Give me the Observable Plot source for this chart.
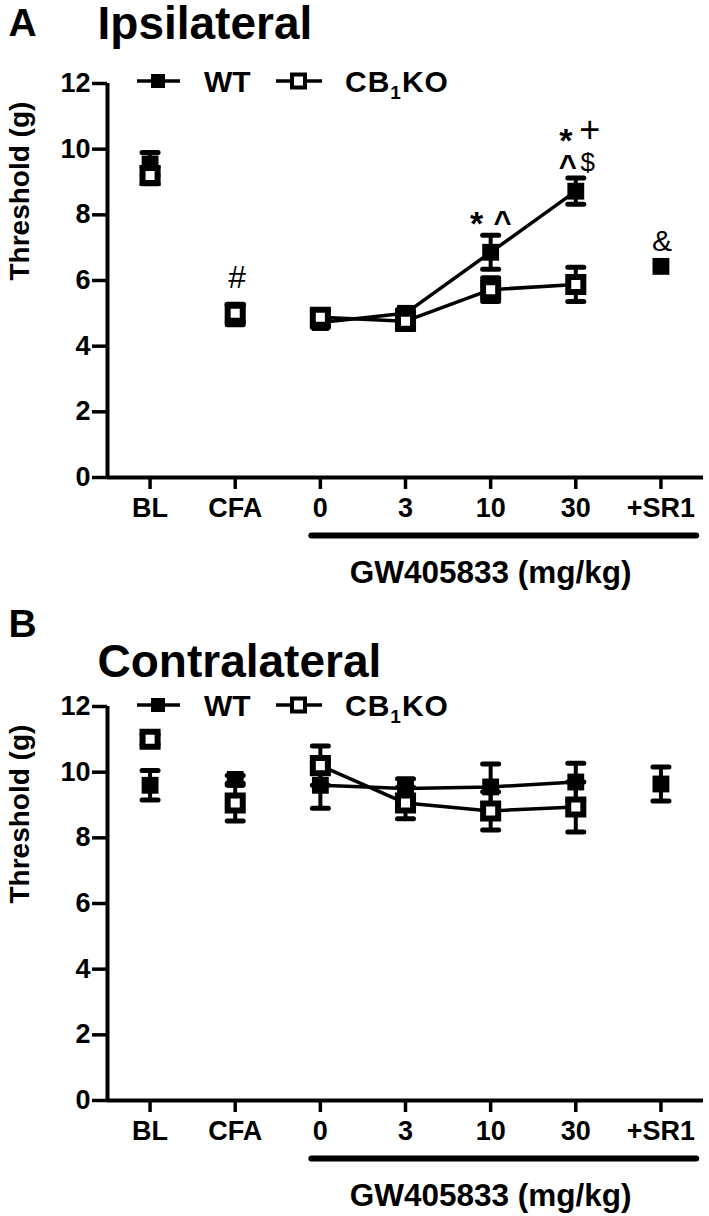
<!DOCTYPE html>
<html>
<head>
<meta charset="utf-8">
<script src="https://cdn.jsdelivr.net/npm/d3@7"></script>
<script src="https://cdn.jsdelivr.net/npm/@observablehq/plot@0.6"></script>
<style>
  html, body { margin: 0; padding: 0; background: #fff; }
  #root { position: relative; width: 709px; height: 1216px; overflow: hidden; background: #fff; }
  .panel { position: absolute; left: 0; width: 709px; }
  .panel > svg { position: absolute; left: 0; top: 0; overflow: visible; }
  .legend { position: absolute; left: 0; }
</style>
</head>
<body>
<div id="root"></div>
<script>
// ---------- data ----------
const categories = ["BL", "CFA", "0", "3", "10", "30", "+SR1"];
const doseCategories = ["0", "3", "10", "30"];
const yTicks = [0, 2, 4, 6, 8, 10, 12];
const seriesNames = ["WT", "CB1KO"];

// Panel A – Ipsilateral (threshold, g)
const ipsiWT    = [9.55, 4.95, 4.72, 5.00, 6.86, 8.72, 6.43];
const ipsiWTsem = [0.35, 0.30, 0.15, 0.12, 0.52, 0.40, 0.00];
const ipsiKO    = [9.20, 5.00, 4.88, 4.76, 5.72, 5.88, null];
const ipsiKOsem = [0.25, 0.28, 0.20, 0.25, 0.36, 0.52, null];

// Panel B – Contralateral (threshold, g)
const contraWT    = [9.60, 9.78, 9.60, 9.50, 9.55, 9.70, 9.64];
const contraWTsem = [0.45, 0.12, 0.70, 0.30, 0.70, 0.57, 0.52];
const contraKO    = [11.00, 9.06, 10.20, 9.06, 8.82, 8.94, null];
const contraKOsem = [0.15, 0.55, 0.60, 0.48, 0.58, 0.76, null];

// significance symbols (panel A)
const ipsiSigCategory = ["CFA", "10", "10", "30", "30", "30", "30", "+SR1"];
const ipsiSigSymbol   = ["#", "*", "^", "*", "+", "^", "$", "&"];
const ipsiSigLevel    = [5.76, 7.40, 7.46, 9.90, 10.23, 9.14, 9.35, 6.91];

// ---------- drawing ----------
const FONT = "'Liberation Sans', Arial, Helvetica, sans-serif";
const sigDx = [2, -14, 12, -10, 14, -8, 12, 1];
const sigFont = {
  "#": {size: 32, weight: "normal"},
  "*": {size: 34, weight: "bold"},
  "^": {size: 31, weight: "bold"},
  "+": {size: 36, weight: "normal"},
  "$": {size: 26, weight: "normal"},
  "&": {size: 30, weight: "normal"}
};

function rows(means, sems, series) {
  return categories
    .map((c, i) => ({cat: c, i, series, v: means[i], sem: sems[i]}))
    .filter(d => d.v != null);
}

const capSymbol = {draw(ctx) { ctx.moveTo(-8, 0); ctx.lineTo(8, 0); }};

function makePanel(opt) {
  const wt = rows(opt.wt, opt.wtSem, "WT");
  const ko = rows(opt.ko, opt.koSem, "CB1KO");
  const isDose = d => doseCategories.includes(d.cat);
  const errMarks = all => {
    const data = all.filter(d => d.sem > 0);
    return [
      Plot.ruleX(data, {x: "i", y1: d => d.v - d.sem, y2: d => d.v + d.sem, stroke: "black", strokeWidth: 4}),
      Plot.dot(data, {x: "i", y: d => d.v + d.sem, symbol: capSymbol, fill: "none", stroke: "black", strokeWidth: 5, strokeLinecap: "round"}),
      Plot.dot(data, {x: "i", y: d => d.v - d.sem, symbol: capSymbol, fill: "none", stroke: "black", strokeWidth: 5, strokeLinecap: "round"})
    ];
  };
  const sig = (opt.sig || []);
  const marks = [
    Plot.axisY({ticks: yTicks, tickSize: 15, tickPadding: 2, fontSize: 27, fontWeight: "bold", strokeWidth: 3.5, label: null}),
    Plot.axisX({ticks: d3.range(categories.length), tickFormat: i => categories[i], tickSize: 12, tickPadding: 8,
                fontSize: 27, fontWeight: "bold", strokeWidth: 3.5, label: null}),
    Plot.ruleY([0], {stroke: "black", strokeWidth: 4}),
    Plot.ruleX([-0.5], {stroke: "black", strokeWidth: 4}),
    // bracket under GW405833 doses
    Plot.ruleY([0], {x1: categories.indexOf("0") - 0.1, x2: categories.indexOf("+SR1") + 0.42, dy: 58,
                     stroke: "black", strokeWidth: 6, strokeLinecap: "round"}),
    Plot.text(["GW405833 (mg/kg)"], {x: categories.indexOf("10"), y: 0, dy: 95, fontSize: 31.5, fontWeight: "bold", lineAnchor: "middle"}),
    Plot.text(["Threshold (g)"], {frameAnchor: "left", dx: -87, rotate: -90, fontSize: 28, fontWeight: "bold"}),
    Plot.text([opt.letter], {frameAnchor: "top-left", dx: -99, dy: opt.letterDy, fontSize: 39, fontWeight: "bold", textAnchor: "start", lineAnchor: "bottom"}),
    Plot.text([opt.title], {frameAnchor: "top-left", dx: -10, dy: opt.titleDy, fontSize: 46, fontWeight: "bold", textAnchor: "start", lineAnchor: "bottom"}),
    Plot.line(wt.filter(isDose), {x: "i", y: "v", stroke: "black", strokeWidth: 3.5}),
    Plot.line(ko.filter(isDose), {x: "i", y: "v", stroke: "black", strokeWidth: 3.5}),
    ...errMarks(wt),
    ...errMarks(ko),
    Plot.dot(wt, {x: "i", y: "v", symbol: "square", r: 9.5, fill: "black", stroke: "none"}),
    Plot.dot(ko, {x: "i", y: "v", symbol: "square", r: 8.5, fill: "white", stroke: "black", strokeWidth: 6}),
    ...sig.map((s, k) => Plot.text([s], {
      x: d => categories.indexOf(d.cat), y: "level", text: "sym",
      dx: sigDx[k], fontSize: sigFont[s.sym].size, fontWeight: sigFont[s.sym].weight,
      lineAnchor: "bottom"
    }))
  ];
  return Plot.plot({
    width: 709,
    height: opt.height,
    marginLeft: 107,
    marginRight: 6,
    marginTop: opt.marginTop,
    marginBottom: opt.height - opt.marginTop - 394,
    x: {type: "linear", domain: [-0.5, categories.length - 0.5], axis: null},
    y: {type: "linear", domain: [0, 12], axis: null},
    style: {fontFamily: FONT, color: "black", background: "white", overflow: "visible"},
    marks
  });
}

function makeLegend(top) {
  const svg = d3.create("svg").attr("width", 709).attr("height", 40)
    .attr("class", "legend").style("top", (top - 20) + "px")
    .style("font-family", FONT).style("font-weight", "bold");
  const cy = 20;
  // WT symbol
  svg.append("line").attr("x1", 137).attr("x2", 180).attr("y1", cy).attr("y2", cy).attr("stroke", "black").attr("stroke-width", 3.5);
  svg.append("rect").attr("x", 151).attr("y", cy - 7).attr("width", 14).attr("height", 14).attr("fill", "black");
  svg.append("text").attr("x", 204).attr("y", cy + 10.5).attr("font-size", 30).text(seriesNames[0]);
  // KO symbol
  svg.append("line").attr("x1", 276).attr("x2", 322).attr("y1", cy).attr("y2", cy).attr("stroke", "black").attr("stroke-width", 3.5);
  svg.append("rect").attr("x", 292).attr("y", cy - 6.5).attr("width", 13).attr("height", 13).attr("fill", "white").attr("stroke", "black").attr("stroke-width", 4);
  const t = svg.append("text").attr("x", 345).attr("y", cy + 10.5).attr("font-size", 30).attr("letter-spacing", 1);
  t.append("tspan").text("CB");
  t.append("tspan").attr("font-size", 19).attr("dy", 7).text("1");
  t.append("tspan").attr("dy", -7).text("KO");
  return svg.node();
}

const root = document.getElementById("root");
const ipsiSig = ipsiSigCategory.map((c, k) => ({cat: c, sym: ipsiSigSymbol[k], level: ipsiSigLevel[k]}));

const panelA = document.createElement("div");
panelA.className = "panel"; panelA.style.top = "0px"; panelA.style.height = "600px";
panelA.appendChild(makePanel({
  wt: ipsiWT, wtSem: ipsiWTsem, ko: ipsiKO, koSem: ipsiKOsem,
  letter: "A", title: "Ipsilateral", letterDy: -48, titleDy: -45,
  marginTop: 83, height: 600, sig: ipsiSig
}));
panelA.appendChild(makeLegend(81));
root.appendChild(panelA);

const panelB = document.createElement("div");
panelB.className = "panel"; panelB.style.top = "600px"; panelB.style.height = "616px";
panelB.appendChild(makePanel({
  wt: contraWT, wtSem: contraWTsem, ko: contraKO, koSem: contraKOsem,
  letter: "B", title: "Contralateral", letterDy: -70, titleDy: -30,
  marginTop: 106, height: 616, sig: []
}));
panelB.appendChild(makeLegend(105));
root.appendChild(panelB);
</script>
</body>
</html>
